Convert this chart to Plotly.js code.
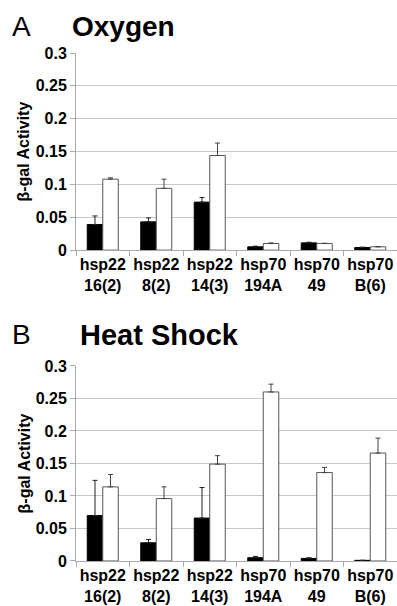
<!DOCTYPE html>
<html>
<head>
<meta charset="utf-8">
<script src="https://cdn.plot.ly/plotly-3.0.1.min.js"></script>
<style>html,body{margin:0;padding:0;background:#fff;}#chart{width:397px;height:606px;}</style>
</head>
<body>
<div id="chart"></div>
<script>
const categories = ['hsp22<br>16(2)','hsp22<br>8(2)','hsp22<br>14(3)','hsp70<br>194A','hsp70<br>49','hsp70<br>B(6)'];
const oxyControl     = [0.039, 0.043, 0.073, 0.005, 0.011, 0.004];
const oxyControlErr  = [0.013, 0.006, 0.007, 0.001, 0.001, 0.0005];
const oxyTreated     = [0.108, 0.094, 0.144, 0.010, 0.010, 0.005];
const oxyTreatedErr  = [0.002, 0.014, 0.019, 0.001, 0.0005, 0.0005];
const heatControl    = [0.070, 0.028, 0.066, 0.005, 0.004, 0.001];
const heatControlErr = [0.054, 0.005, 0.047, 0.002, 0.001, 0];
const heatTreated    = [0.114, 0.096, 0.149, 0.260, 0.136, 0.166];
const heatTreatedErr = [0.019, 0.018, 0.013, 0.012, 0.008, 0.023];
const yTicks = [0, 0.05, 0.1, 0.15, 0.2, 0.25, 0.3];
const yTickText = ['0', '0.05', '0.1', '0.15', '0.2', '0.25', '0.3'];

const FONT = 'Liberation Sans, Arial, Helvetica, sans-serif';
const zeros = n => new Array(n).fill(0);

function blackBar(vals, errs, xa, ya) {
  return {type:'bar', x:categories, y:vals, xaxis:xa, yaxis:ya, showlegend:false,
    marker:{color:'#000', line:{color:'#000', width:1}},
    error_y:{type:'data', array:errs, arrayminus:zeros(errs.length), symmetric:false,
      color:'#222', thickness:1, width:2.5},
    hoverinfo:'skip'};
}
function whiteBar(vals, errs, xa, ya) {
  return {type:'bar', x:categories, y:vals, xaxis:xa, yaxis:ya, showlegend:false,
    marker:{color:'#fff', line:{color:'#555', width:1}},
    error_y:{type:'data', array:errs, arrayminus:zeros(errs.length), symmetric:false,
      color:'#444', thickness:1, width:2.5},
    hoverinfo:'skip'};
}

const data = [
  blackBar(oxyControl, oxyControlErr, 'x', 'y'),
  whiteBar(oxyTreated, oxyTreatedErr, 'x', 'y'),
  blackBar(heatControl, heatControlErr, 'x2', 'y2'),
  whiteBar(heatTreated, heatTreatedErr, 'x2', 'y2')
];

const xaxisBase = {
  type:'category', tickson:'boundaries', ticks:'outside', ticklen:5, tickcolor:'#aaa',
  showline:true, linecolor:'#aaa', linewidth:1, showgrid:false, tickangle:0,
  tickfont:{family:FONT, size:16, weight:'bold', color:'#000'},
  fixedrange:true
};
const yaxisBase = {
  range:[0, 0.3], tickvals:yTicks, ticktext:yTickText, ticks:'outside', ticklen:5, tickcolor:'#aaa',
  showline:true, linecolor:'#aaa', linewidth:1, showgrid:true, gridcolor:'#c8c8c8', gridwidth:1,
  zeroline:false, tickfont:{family:FONT, size:16, weight:'bold', color:'#000'},
  fixedrange:true
};

const layout = {
  width:397, height:606,
  margin:{l:76, r:0, t:53, b:45},
  paper_bgcolor:'#fff', plot_bgcolor:'#fff',
  barmode:'group', bargap:0.42, bargroupgap:0,
  xaxis: Object.assign({}, xaxisBase, {anchor:'y', domain:[0,1]}),
  yaxis: Object.assign({}, yaxisBase, {anchor:'x', domain:[0.612, 1]}),
  xaxis2: Object.assign({}, xaxisBase, {anchor:'y2', domain:[0,1]}),
  yaxis2: Object.assign({}, yaxisBase, {anchor:'x2', domain:[0, 0.384]}),
  annotations:[
    {text:'A', xref:'paper', yref:'paper', x:-0.205, y:1.053, xanchor:'left', yanchor:'middle',
     showarrow:false, font:{family:FONT, size:28, color:'#000'}},
    {text:'<b>Oxygen</b>', xref:'paper', yref:'paper', x:-0.02, y:1.053, xanchor:'left', yanchor:'middle',
     showarrow:false, font:{family:FONT, size:28, color:'#000'}},
    {text:'B', xref:'paper', yref:'paper', x:-0.205, y:0.445, xanchor:'left', yanchor:'middle',
     showarrow:false, font:{family:FONT, size:28, color:'#000'}},
    {text:'<b>Heat Shock</b>', xref:'paper', yref:'paper', x:0.005, y:0.445, xanchor:'left', yanchor:'middle',
     showarrow:false, font:{family:FONT, size:29, color:'#000'}},
    {text:'<b>β-gal Activity</b>', xref:'paper', yref:'paper', x:-0.162, y:0.806, xanchor:'center', yanchor:'middle',
     textangle:-90, showarrow:false, font:{family:FONT, size:16, color:'#000'}},
    {text:'<b>β-gal Activity</b>', xref:'paper', yref:'paper', x:-0.162, y:0.192, xanchor:'center', yanchor:'middle',
     textangle:-90, showarrow:false, font:{family:FONT, size:16, color:'#000'}}
  ]
};

Plotly.newPlot('chart', data, layout, {displayModeBar:false, staticPlot:true});
</script>
</body>
</html>
